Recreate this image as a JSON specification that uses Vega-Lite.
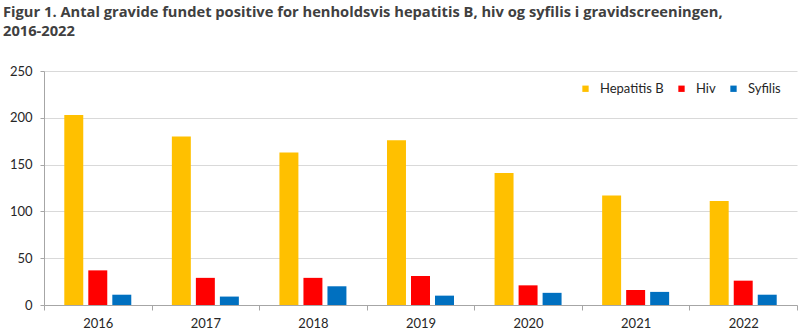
{
  "$schema": "https://vega.github.io/schema/vega-lite/v6.json",
  "width": 753,
  "height": 234,
  "autosize": {"type": "none"},
  "padding": {"left": 44, "top": 71, "right": 3, "bottom": 31},
  "background": "white",
  "title": {
    "text": ["Figur 1. Antal gravide fundet positive for henholdsvis hepatitis B, hiv og syfilis  i gravidscreeningen,", "2016-2022"],
    "anchor": "start",
    "frame": "group",
    "dx": -41,
    "offset": 26,
    "font": "Open Sans",
    "fontSize": 14.7,
    "fontWeight": "bold",
    "color": "#404040",
    "lineHeight": 19
  },
  "data": {
    "values": [
      {"year": "2016", "series": "Hepatitis B", "value": 203},
      {"year": "2016", "series": "Hiv", "value": 37},
      {"year": "2016", "series": "Syfilis", "value": 11},
      {"year": "2017", "series": "Hepatitis B", "value": 180},
      {"year": "2017", "series": "Hiv", "value": 29},
      {"year": "2017", "series": "Syfilis", "value": 9},
      {"year": "2018", "series": "Hepatitis B", "value": 163},
      {"year": "2018", "series": "Hiv", "value": 29},
      {"year": "2018", "series": "Syfilis", "value": 20},
      {"year": "2019", "series": "Hepatitis B", "value": 176},
      {"year": "2019", "series": "Hiv", "value": 31},
      {"year": "2019", "series": "Syfilis", "value": 10},
      {"year": "2020", "series": "Hepatitis B", "value": 141},
      {"year": "2020", "series": "Hiv", "value": 21},
      {"year": "2020", "series": "Syfilis", "value": 13},
      {"year": "2021", "series": "Hepatitis B", "value": 117},
      {"year": "2021", "series": "Hiv", "value": 16},
      {"year": "2021", "series": "Syfilis", "value": 14},
      {"year": "2022", "series": "Hepatitis B", "value": 111},
      {"year": "2022", "series": "Hiv", "value": 26},
      {"year": "2022", "series": "Syfilis", "value": 11}
    ]
  },
  "mark": {"type": "bar"},
  "encoding": {
    "x": {
      "field": "year",
      "type": "nominal",
      "title": null,
      "scale": {"paddingInner": 0, "paddingOuter": 0},
      "axis": {
        "labelAngle": 0,
        "tickBand": "extent",
        "domainColor": "#a6a6a6",
        "tickColor": "#a6a6a6",
        "tickSize": 5,
        "labelPadding": 7,
        "labelFont": "Lato",
        "labelFontSize": 13,
        "labelColor": "#262626",
        "grid": false
      }
    },
    "xOffset": {
      "field": "series",
      "type": "nominal",
      "sort": ["Hepatitis B", "Hiv", "Syfilis"],
      "scale": {"paddingInner": 0.21, "paddingOuter": 0.845}
    },
    "y": {
      "field": "value",
      "type": "quantitative",
      "title": null,
      "scale": {"domain": [0, 250]},
      "axis": {
        "values": [0, 50, 100, 150, 200, 250],
        "domainColor": "#a6a6a6",
        "tickColor": "#a6a6a6",
        "tickSize": 4,
        "labelPadding": 8,
        "gridColor": "#d9d9d9",
        "labelFont": "Lato",
        "labelFontSize": 13,
        "labelColor": "#262626"
      }
    },
    "color": {
      "field": "series",
      "type": "nominal",
      "sort": ["Hepatitis B", "Hiv", "Syfilis"],
      "scale": {"domain": ["Hepatitis B", "Hiv", "Syfilis"], "range": ["#FFC000", "#FF0000", "#0070C0"]},
      "legend": {
        "title": null,
        "orient": "none",
        "direction": "horizontal",
        "legendX": 535,
        "legendY": 11,
        "symbolType": "square",
        "symbolSize": 40,
        "symbolStrokeWidth": 0,
        "labelFont": "Lato",
        "labelFontSize": 13,
        "labelColor": "#262626",
        "labelOffset": 8,
        "columnPadding": 11
      }
    }
  },
  "config": {"view": {"stroke": null}}
}
